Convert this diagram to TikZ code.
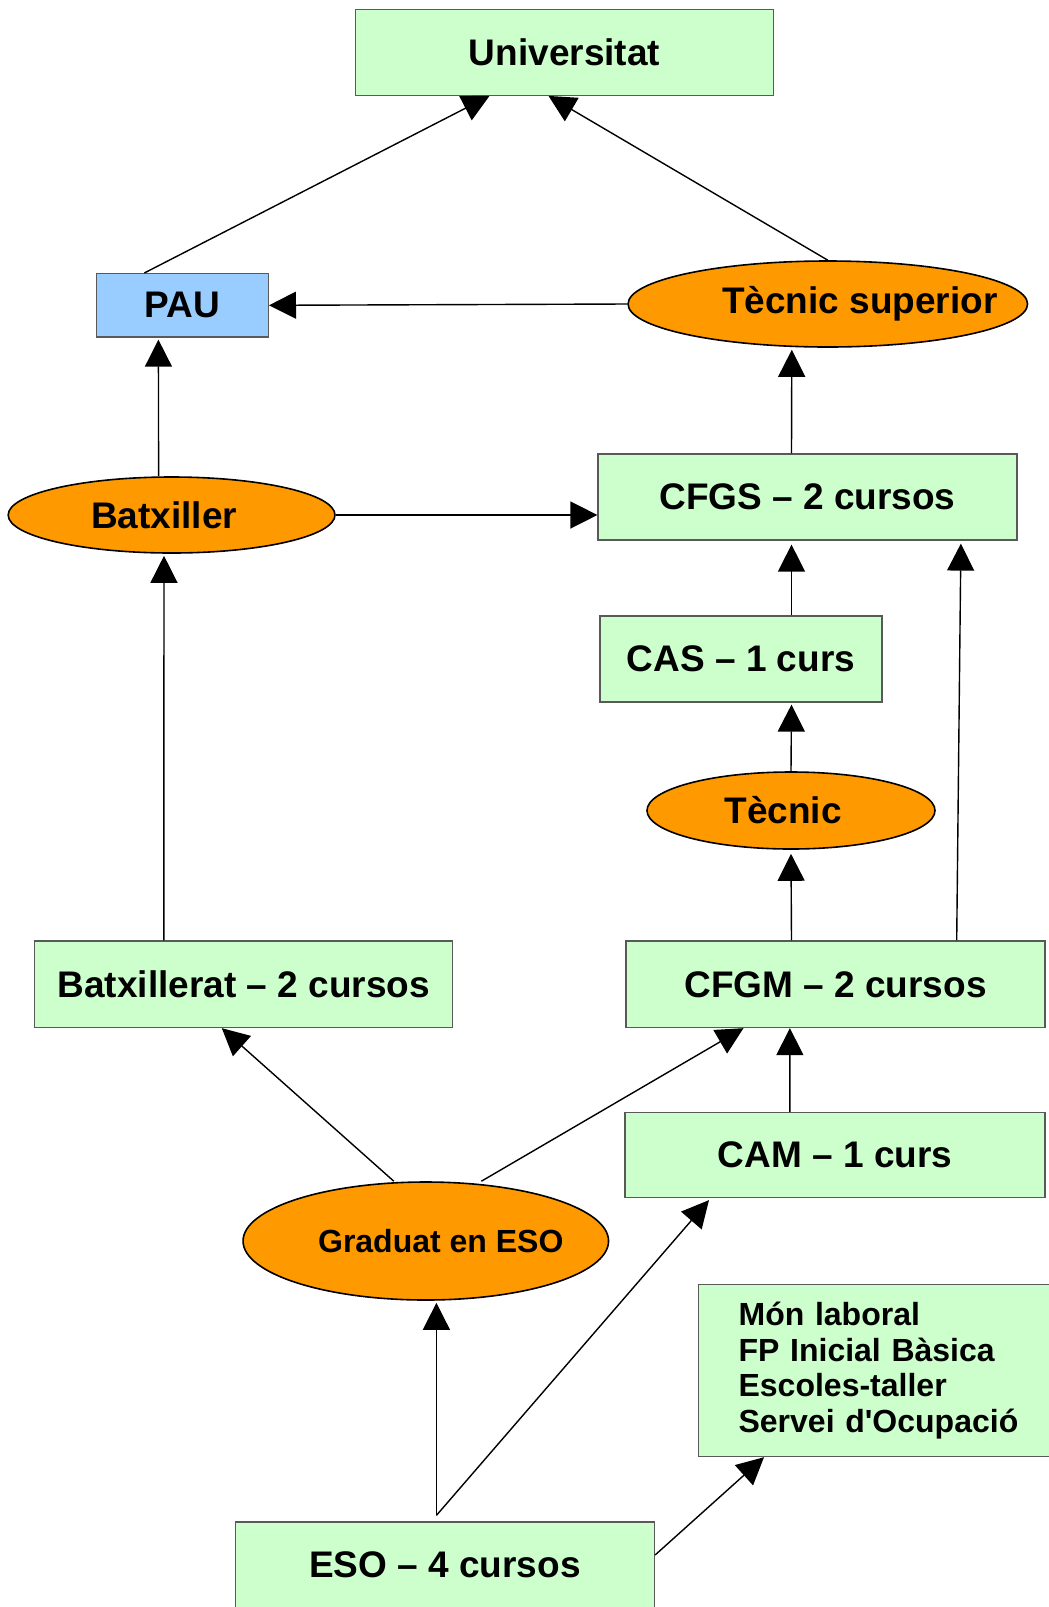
\documentclass[tikz,border=0pt]{standalone}
\usepackage{fontspec}
\setmainfont{Liberation Sans}
\usepackage{tikz}
\usetikzlibrary{arrows.meta,shapes.geometric}
\definecolor{boxgreen}{HTML}{CCFFCC}
\definecolor{boxblue}{HTML}{99CCFF}
\definecolor{ovalorange}{HTML}{FF9900}
\tikzset{>/.tip={Triangle[length=13.5pt,width=13.5pt]},
  every edge/.style={draw, line width=0.7pt},
  course/.style={rectangle, draw=black!65, line width=0.6pt, fill=boxgreen, inner sep=0pt,
    font=\bfseries\fontsize{18.5}{22}\selectfont},
  title/.style={ellipse, draw=black, line width=0.8pt, fill=ovalorange, inner sep=0pt,
    font=\bfseries\fontsize{18.5}{22}\selectfont}}

\begin{document}
\begin{tikzpicture}[x=0.5pt, y=-0.5pt]
 \useasboundingbox (0,0) rectangle (1049,1607);

 \node[course, minimum width=209pt, minimum height=43pt]   (univ) at (564.5, 52.3)  {Universitat};
 \node[course, fill=boxblue, minimum width=86pt, minimum height=31.75pt] (pau) at (182.4, 305.3) {PAU};
 \node[title, minimum width=199.75pt, minimum height=43pt] (tsup) at (827.8, 304)   {\makebox[0pt]{\hspace*{32pt}Tècnic superior}};
 \node[title, minimum width=163.4pt, minimum height=38pt]  (bat)  at (171.6, 515)   {\makebox[0pt]{Batxiller\hspace*{7.5pt}}};
 \node[course, minimum width=209.5pt, minimum height=43pt] (cfgs) at (807.5, 497)   {CFGS – 2 cursos};
 \node[course, minimum width=141pt, minimum height=43pt]   (cas)  at (741, 659)     {CAS – 1 curs};
 \node[title, minimum width=144pt, minimum height=38.5pt]  (tec)  at (791, 810.5)   {\makebox[0pt]{Tècnic\hspace*{8pt}}};
 \node[course, minimum width=209pt, minimum height=43.25pt]   (batx) at (243.8, 984.3) {Batxillerat – 2 cursos};
 \node[course, minimum width=209.5pt, minimum height=43.25pt] (cfgm) at (835.5, 984.3) {CFGM – 2 cursos};
 \node[course, minimum width=210pt, minimum height=42.5pt]    (cam)  at (835, 1155)    {CAM – 1 curs};
 \node[title, minimum width=182.75pt, minimum height=59pt, font=\bfseries\fontsize{16}{19}\selectfont]
   (grad) at (425.8, 1241) {\makebox[0pt]{\hspace*{15pt}Graduat en ESO}};
 \node[course, minimum width=210pt, minimum height=86pt, text width=170pt, align=left,
   font=\bfseries\fontsize{16}{17.9}\selectfont]
   (mon) at (908.6, 1370.6) {Món laboral\\FP Inicial Bàsica\\Escoles-taller\\Servei d\textquotesingle Ocupació};
 \node[course, minimum width=209.5pt, minimum height=43pt]  (eso)  at (445, 1565)    {ESO – 4 cursos};

 \path[->] ([xshift=-19pt]pau.north) edge ([xshift=-37.5pt]univ.south);
 \path[->] (tsup.north) edge ([xshift=-8pt]univ.south);
 \path[->] (tsup.west) edge (pau.east);
 \path[->] ([xshift=-6.5pt]bat.north) edge ([xshift=-12pt, yshift=-1pt]pau.south);
 \path[->] ([xshift=-8pt]cfgs.north) edge ([xshift=-18pt, yshift=-1pt]tsup.south);
 \path[->] (bat.east) edge (cfgs.west |- bat.east);
 \path[->] ([xshift=25.25pt]cas.north) edge ([xshift=-8pt, yshift=-2pt]cfgs.south);
 \path[->] (tec.north) edge ([xshift=25.25pt, yshift=-1pt]cas.south);
 \path[->] ([xshift=-22pt]cfgm.north) edge ([yshift=-2pt]tec.south);
 \path[->] ([xshift=60.6pt]cfgm.north) edge ([xshift=76.7pt, yshift=-1.5pt]cfgs.south);
 \path[->] ([xshift=-40pt]batx.north) edge ([xshift=-3.8pt, yshift=-1pt]bat.south);
 \path[->] ([xshift=-16pt]grad.north) edge ([xshift=-11pt]batx.south);
 \path[->] ([xshift=27.8pt]grad.north) edge ([xshift=-46pt]cfgm.south);
 \path[->] ([xshift=-22.6pt]cam.north) edge ([xshift=-22.8pt]cfgm.south);
 \path[->] ([xshift=-4.3pt, yshift=3pt]eso.north) edge ([xshift=5.3pt, yshift=-1pt]grad.south);
 \path[->] ([xshift=-4.3pt, yshift=3pt]eso.north) edge ([xshift=-63pt, yshift=-1pt]cam.south);
 \path[->] ([yshift=5pt]eso.east) edge ([xshift=33pt]mon.south west);
\end{tikzpicture}
\end{document}
